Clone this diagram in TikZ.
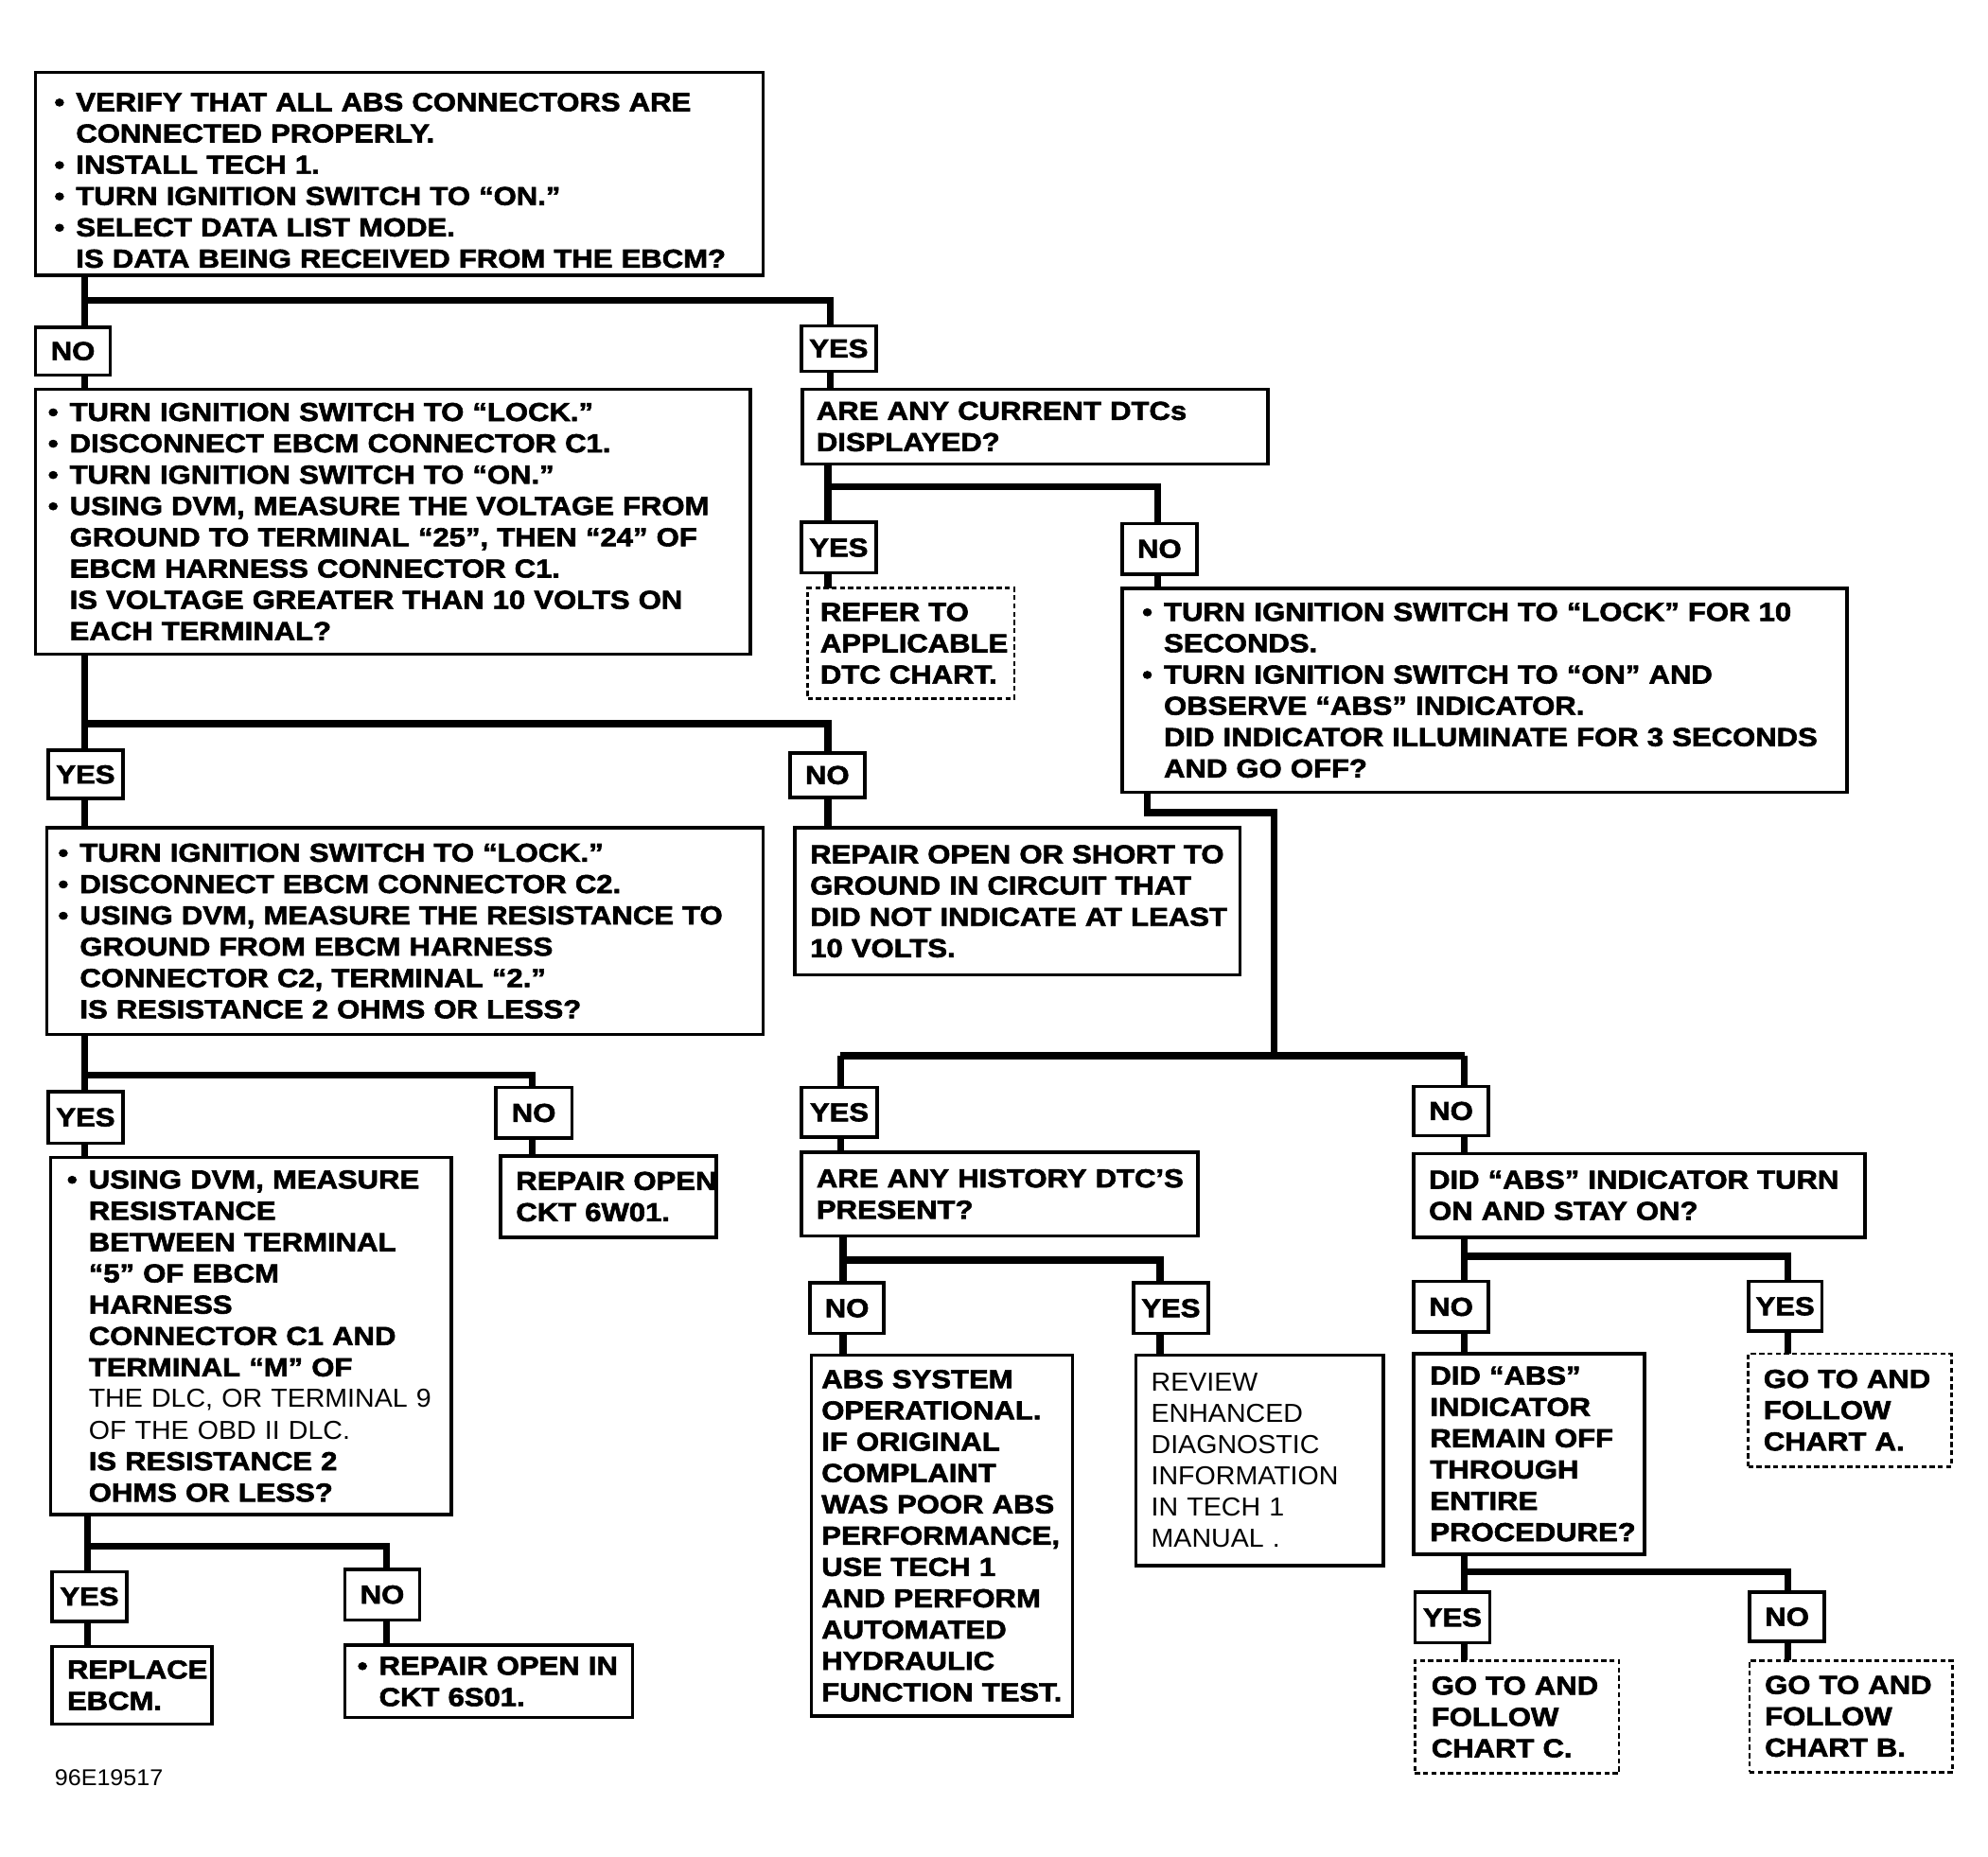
\documentclass[tikz,border=0pt]{standalone}
\usepackage{fontspec}
\setmainfont{Liberation Sans}
\newfontfamily\bfnt{Liberation Sans}[FakeStretch=1.13, BoldFeatures={FakeBold=2.2}]
\newfontfamily\rfnt{Liberation Sans}[FakeStretch=1.04]
\usetikzlibrary{backgrounds}
\newcommand\bul{\leavevmode\llap{•\hspace{9pt}}}
\newcommand\reg[1]{{\rfnt\mdseries #1}}
\tikzset{
  txtfont/.style={font={\bfnt\bfseries\fontsize{20.5pt}{24.7pt}\selectfont}},
  box/.style={draw, line width=2.7pt, fill=white, inner sep=0pt, outer sep=0pt,
    anchor=north west, align=left, txtfont},
  dbox/.style={box, line width=2pt, dash pattern=on 4pt off 2.5pt},
  lbl/.style={draw, line width=2.7pt, fill=white, inner sep=0pt, outer sep=0pt,
    anchor=north west, align=center, txtfont},
  conn/.style={line width=5.5pt},
}
% [style]{name}{x,y}{width}{height}{left indent}{text}
\newcommand\bx[7][box]{\node[#1, text width=#4pt, minimum height=#5pt] (#2) at (#3)
  {\leftskip=#6pt\rightskip=-80pt plus 1fil\relax #7\par};}
% {name}{x,y}{width}{height}{text}
\newcommand\lb[5]{\node[lbl, minimum width=#3pt, minimum height=#4pt] (#1) at (#2) {#5};}
\begin{document}
\begin{tikzpicture}[x=1pt, y=-1pt]
\useasboundingbox (0,0) rectangle (1568,1465);

% ---------- boxes ----------
\bx{b1}{28,57}{574}{160}{32}{\bul\rule{0pt}{25pt}VERIFY THAT ALL ABS CONNECTORS ARE\\
CONNECTED PROPERLY.\\
\bul INSTALL TECH 1.\\
\bul TURN IGNITION SWITCH TO “ON.”\\
\bul SELECT DATA LIST MODE.\\
IS DATA BEING RECEIVED FROM THE EBCM?}

\bx{b2}{28,307}{564}{209}{27}{\bul TURN IGNITION SWITCH TO “LOCK.”\\
\bul DISCONNECT EBCM CONNECTOR C1.\\
\bul TURN IGNITION SWITCH TO “ON.”\\
\bul USING DVM, MEASURE THE VOLTAGE FROM\\
GROUND TO TERMINAL “25”, THEN “24” OF\\
EBCM HARNESS CONNECTOR C1.\\
IS VOLTAGE GREATER THAN 10 VOLTS ON\\
EACH TERMINAL?}

\bx{b3}{633,307}{367}{59}{11}{ARE ANY CURRENT DTCs\\ DISPLAYED?}

\bx[dbox]{d1}{637,464}{163}{87}{10}{REFER TO\\ APPLICABLE\\ DTC CHART.}

\bx{b4}{885,464}{572}{161}{33}{\bul TURN IGNITION SWITCH TO “LOCK” FOR 10\\
SECONDS.\\
\bul TURN IGNITION SWITCH TO “ON” AND\\
OBSERVE “ABS” INDICATOR.\\
DID INDICATOR ILLUMINATE FOR 3 SECONDS\\
AND GO OFF?}

\bx{b5}{37,653}{565}{163}{26}{\bul TURN IGNITION SWITCH TO “LOCK.”\\
\bul DISCONNECT EBCM CONNECTOR C2.\\
\bul USING DVM, MEASURE THE RESISTANCE TO\\
GROUND FROM EBCM HARNESS\\
CONNECTOR C2, TERMINAL “2.”\\
IS RESISTANCE 2 OHMS OR LESS?}

\bx{b6}{627,653}{351}{116}{12}{REPAIR OPEN OR SHORT TO\\
GROUND IN CIRCUIT THAT\\
DID NOT INDICATE AT LEAST\\
10 VOLTS.}

\bx{b9}{40,913}{316}{282}{30}{\bul USING DVM, MEASURE\\
RESISTANCE\\
BETWEEN TERMINAL\\
“5” OF EBCM\\
HARNESS\\
CONNECTOR C1 AND\\
TERMINAL “M” OF\\
\reg{THE DLC, OR TERMINAL 9}\\
\reg{OF THE OBD II DLC.}\\
IS RESISTANCE 2\\
OHMS OR LESS?}

\bx{b10}{395,912}{170}{64}{12}{REPAIR OPEN\\ CKT 6W01.}
\bx{b11}{41,1299}{126}{61}{12}{REPLACE\\ EBCM.}
\bx{b12}{272,1298}{227}{57}{27}{\bul REPAIR OPEN IN\\ CKT 6S01.}

\bx{b7}{632,909}{313}{66}{12}{ARE ANY HISTORY DTC’S\\ PRESENT?}
\bx{b8}{1115,910}{356}{66}{12}{DID “ABS” INDICATOR TURN\\ ON AND STAY ON?}

\bx{b13}{640,1069}{206}{285}{8}{ABS SYSTEM\\
OPERATIONAL.\\
IF ORIGINAL\\
COMPLAINT\\
WAS POOR ABS\\
PERFORMANCE,\\
USE TECH 1\\
AND PERFORM\\
AUTOMATED\\
HYDRAULIC\\
FUNCTION TEST.}

\bx{b14}{896,1069}{195}{166}{12}{\reg{REVIEW\\
ENHANCED\\
DIAGNOSTIC\\
INFORMATION\\
IN TECH 1\\
MANUAL .}}

\bx{b15}{1115,1068}{182}{158}{13}{DID “ABS”\\
INDICATOR\\
REMAIN OFF\\
THROUGH\\
ENTIRE\\
PROCEDURE?}

\bx[dbox]{d2}{1379,1068}{160}{89}{12}{GO TO AND\\ FOLLOW\\ CHART A.}
\bx[dbox]{d3}{1116,1310}{161}{89}{13}{GO TO AND\\ FOLLOW\\ CHART C.}
\bx[dbox]{d4}{1380,1310}{160}{88}{12}{GO TO AND\\ FOLLOW\\ CHART B.}

% ---------- YES / NO labels ----------
\lb{n1}{28,258}{59}{38}{NO}
\lb{y1}{632,257}{59}{36}{YES}
\lb{y2}{632,412}{59}{40}{YES}
\lb{n2}{885,413}{59}{40}{NO}
\lb{y3}{38,592}{59}{38}{YES}
\lb{n3}{623,594}{59}{35}{NO}
\lb{y4}{38,861}{59}{41}{YES}
\lb{n4}{391,858}{60}{40}{NO}
\lb{y5}{41,1240}{59}{39}{YES}
\lb{n5}{272,1238}{59}{40}{NO}
\lb{y6}{632,858}{60}{39}{YES}
\lb{n6}{1115,857}{59}{39}{NO}
\lb{n7}{639,1012}{58}{40}{NO}
\lb{y7}{894,1012}{59}{40}{YES}
\lb{n8}{1115,1011}{59}{40}{NO}
\lb{y8}{1379,1011}{58}{39}{YES}
\lb{y9}{1116,1256}{59}{40}{YES}
\lb{n9}{1380,1256}{59}{39}{NO}

\node[anchor=base west, inner sep=0pt, font={\rfnt\fontsize{18pt}{20pt}\selectfont}] (code) at (43,1409) {96E19517};

% ---------- connectors ----------
\coordinate (k1) at (67,237);   \coordinate (k1r) at (655,237);
\coordinate (k2) at (653,384);  \coordinate (k2r) at (913,384);
\coordinate (k3) at (67,571);   \coordinate (k3r) at (653,571);
\coordinate (k4a) at (905,641); \coordinate (k4b) at (1005,641);
\coordinate (k4c) at (1005,833);
\coordinate (k4l) at (663,833); \coordinate (k4r) at (1155,833);
\coordinate (k5) at (67,848);   \coordinate (k5r) at (420,848);
\coordinate (k6) at (69,1220);  \coordinate (k6r) at (305,1220);
\coordinate (k7) at (665,994);  \coordinate (k7r) at (915,994);
\coordinate (k8) at (1155,991); \coordinate (k8r) at (1410,991);
\coordinate (k9) at (1155,1240); \coordinate (k9r) at (1410,1240);

\begin{pgfonlayer}{background}
\fill[white] (0,0) rectangle (1568,1465);
\draw[conn] (k1 |- b1.south) -- (k1) -- (k1r) -- (k1r |- b3.north);
\draw[conn] (k1) -- (k1 |- b2.north);
\draw[conn] (k2 |- b3.south) -- (k2) -- (k2r) -- (k2r |- b4.north);
\draw[conn] (k2) -- (k2 |- d1.north);
\draw[conn] (k3 |- b2.south) -- (k3) -- (k3r) -- (k3r |- b6.north);
\draw[conn] (k3) -- (k3 |- b5.north);
\draw[conn] (k4a |- b4.south) -- (k4a) -- (k4b) -- (k4c);
\draw[conn] (k4l) -- (k4r);
\draw[conn] (k4l) -- (k4l |- b7.north);
\draw[conn] (k4r) -- (k4r |- b8.north);
\draw[conn] (k5 |- b5.south) -- (k5) -- (k5r) -- (k5r |- b10.north);
\draw[conn] (k5) -- (k5 |- b9.north);
\draw[conn] (k6 |- b9.south) -- (k6) -- (k6r) -- (k6r |- b12.north);
\draw[conn] (k6) -- (k6 |- b11.north);
\draw[conn] (k7 |- b7.south) -- (k7) -- (k7r) -- (k7r |- b14.north);
\draw[conn] (k7) -- (k7 |- b13.north);
\draw[conn] (k8 |- b8.south) -- (k8) -- (k8r) -- (k8r |- d2.north);
\draw[conn] (k8) -- (k8 |- b15.north);
\draw[conn] (k9 |- b15.south) -- (k9) -- (k9r) -- (k9r |- d4.north);
\draw[conn] (k9) -- (k9 |- d3.north);
\end{pgfonlayer}
\end{tikzpicture}
\end{document}
